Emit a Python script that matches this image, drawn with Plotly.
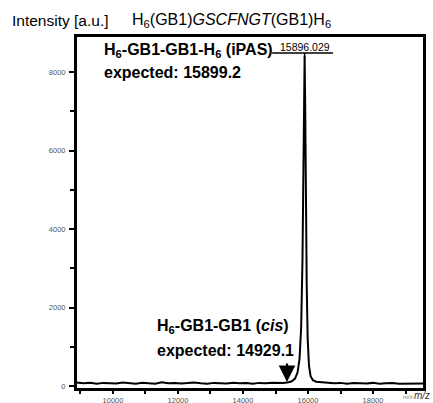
import plotly.graph_objects as go

# m/z values (Da) and intensities (a.u.)
mz = [8870, 9100, 9300, 9500, 9700, 9900, 10100, 10300, 10500, 10700, 10900,
      11100, 11300, 11500, 11700, 11900, 12100, 12300, 12500, 12700, 12900,
      13100, 13300, 13500, 13700, 13900, 14100, 14300, 14500, 14700, 14900,
      15100, 15250, 15400, 15500, 15600, 15680, 15740, 15790, 15830, 15860,
      15880, 15896, 15912, 15930, 15960, 15990, 16030, 16080, 16150, 16250,
      16400, 16600, 16800, 17000, 17200, 17400, 17600, 17800, 18000, 18200,
      18400, 18600, 18800, 19000, 19200, 19400, 19560]
intensity = [90, 70, 85, 60, 80, 75, 65, 90, 70, 60, 85,
             75, 60, 95, 70, 80, 65, 75, 90, 70, 60,
             80, 75, 65, 85, 70, 75, 60, 80, 70, 85,
             75, 80, 95, 120, 190, 350, 700, 1500, 3200, 5600,
             7400, 8400, 7300, 5200, 2600, 1200, 520, 250, 150, 110,
             95, 85, 70, 80, 60, 75, 70, 65, 80, 60,
             70, 75, 60, 65, 70, 60, 65]

peak_mz = 15896.029
peak_label = "15896.029"
arrow_mz = 15354

x_tickvals = [10000, 12000, 14000, 16000, 18000]
x_minor = [9000, 11000, 13000, 15000, 17000, 19000]
y_tickvals = [0, 2000, 4000, 6000, 8000]
y_minor = [1000, 3000, 5000, 7000]

W, H = 433, 403
L, R, T, B = 76, 424, 36, 389


def fx(px):
    return (px - L) / (R - L)


def fy(py):
    return (B - py) / (B - T)


fig = go.Figure()
fig.add_trace(go.Scatter(x=mz, y=intensity, mode="lines",
                         line=dict(color="black", width=2), hoverinfo="skip",
                         showlegend=False))

font = "Liberation Sans, Arial, sans-serif"

fig.update_layout(
    width=W, height=H,
    margin=dict(l=L, r=W - R, t=T, b=H - B, pad=0),
    paper_bgcolor="white", plot_bgcolor="white",
    font=dict(family=font, color="black"),
    xaxis=dict(range=[8862, 19569], tickvals=x_tickvals,
               ticktext=[str(v) for v in x_tickvals], automargin=False,
               showgrid=False, zeroline=False, showline=True, mirror=True,
               linecolor="black", linewidth=2, ticks="outside", ticklen=3,
               tickwidth=1.5, tickcolor="black", ticklabelstandoff=0,
               tickfont=dict(size=7.5, color="#555"),
               minor=dict(tickvals=x_minor, ticks="outside", ticklen=3,
                          tickwidth=1.5, tickcolor="black")),
    yaxis=dict(range=[-76, 8917], tickvals=y_tickvals,
               ticktext=[str(v) for v in y_tickvals], automargin=False,
               showgrid=False, zeroline=False, showline=True, mirror=True,
               linecolor="black", linewidth=2, ticks="outside", ticklen=5,
               tickwidth=2, tickcolor="black", ticklabelstandoff=2,
               tickfont=dict(size=7.5, color="#555"),
               minor=dict(tickvals=y_minor, ticks="outside", ticklen=4,
                          tickwidth=2, tickcolor="black")),
)

ann = [
    dict(x=fx(10), y=fy(20), text="Intensity [a.u.]", xanchor="left",
         font=dict(size=15.5)),
    dict(x=fx(130), y=fy(20),
         text="H<sub>6</sub>(GB1)<i>GSCFNGT</i>(GB1)H<sub>6</sub>",
         xanchor="left", font=dict(size=16)),
    dict(x=fx(102), y=fy(50),
         text="<b>H<sub>6</sub>-GB1-GB1-H<sub>6</sub> (iPAS)</b>",
         xanchor="left", font=dict(size=16)),
    dict(x=fx(102), y=fy(72), text="<b>expected: 15899.2</b>",
         xanchor="left", font=dict(size=16)),
    dict(x=fx(155), y=fy(326),
         text="<b>H<sub>6</sub>-GB1-GB1 (<i>cis</i>)</b>",
         xanchor="left", font=dict(size=16)),
    dict(x=fx(155), y=fy(350), text="<b>expected: 14929.1</b>",
         xanchor="left", font=dict(size=16)),
    dict(x=fx(432), y=fy(395), text="<i>m/z</i>", xanchor="right",
         font=dict(size=10, color="#333")),
    dict(x=fx(408), y=fy(397), text="m/z", xanchor="center",
         font=dict(size=6, color="#777")),
]
for a in ann:
    a.update(xref="paper", yref="paper", showarrow=False, yanchor="middle")

ann.append(dict(x=peak_mz, y=fy(47.5), xref="x", yref="paper",
                text=peak_label, showarrow=False, xanchor="center",
                yanchor="middle", font=dict(size=10.5)))
ann.append(dict(x=arrow_mz, y=fy(382), xref="x", yref="paper",
                ax=0, ay=-20, axref="pixel", ayref="pixel",
                text="", showarrow=True, arrowhead=2, arrowsize=1.5,
                arrowwidth=2.2, arrowcolor="black"))
fig.update_layout(annotations=ann)

# frame around the plot area
fig.add_shape(type="rect", xref="paper", yref="paper", x0=0, x1=1, y0=0, y1=1,
              line=dict(color="black", width=2), layer="above")

# horizontal label line over the peak and its connector to the peak top
fig.add_shape(type="line", xref="x", yref="paper",
              x0=peak_mz - 1000, x1=peak_mz + 870,
              y0=fy(53), y1=fy(53), line=dict(color="black", width=1.5))
fig.add_shape(type="line", xref="x", yref="paper",
              x0=peak_mz, x1=peak_mz, y0=fy(53), y1=fy(59),
              line=dict(color="black", width=1.5))

fig.write_html("out.html", config={"displayModeBar": False},
               post_script="document.body.style.margin='0';")
